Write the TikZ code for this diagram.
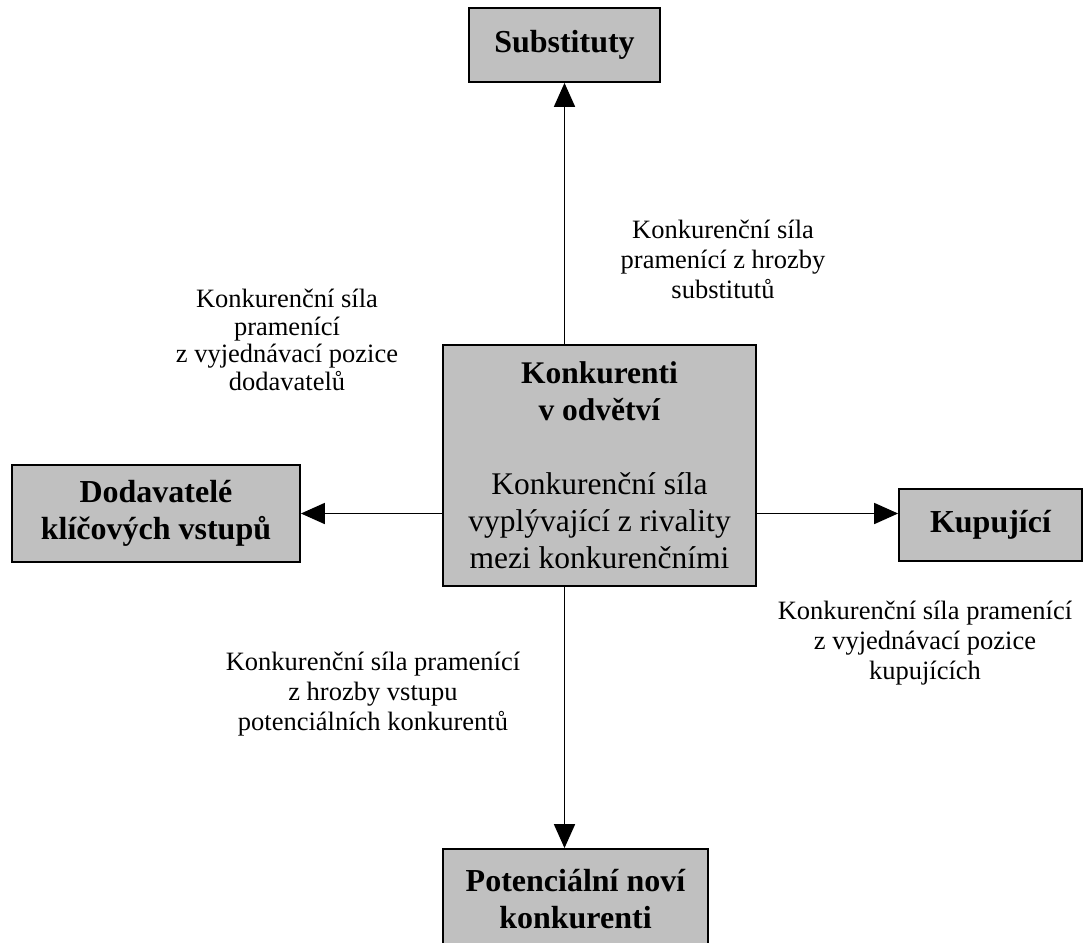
\documentclass[tikz,border=0pt]{standalone}
\usepackage{fontspec}
\setmainfont{Liberation Serif}
\usetikzlibrary{arrows.meta,shadows}
\begin{document}
\begin{tikzpicture}[x=1pt,y=-1pt,
  box/.style={draw=black,line width=1.8pt,fill=boxgray,inner sep=0pt,align=center,
    font=\fontsize{32}{37}\selectfont\bfseries,
    drop shadow={shadow xshift=1.4pt,shadow yshift=-1.4pt,fill=black,opacity=1}},
  label/.style={inner sep=0pt,align=center,font=\fontsize{26.5}{30}\selectfont},
  force/.style={line width=1.8pt,-{Triangle[length=24pt,width=21pt]}}]
\definecolor{boxgray}{RGB}{192,192,192}
\useasboundingbox[fill=white] (0,0) rectangle (1086,942);

% the five forces
\node[box,minimum width=191,minimum height=74] (sub) at (564.5,45) {Substituty};
\node[box,minimum width=313,minimum height=241,font=\fontsize{31.5}{37}\selectfont] (kc) at (599.5,465.5)
  {\textbf{Konkurenti}\\\textbf{v odvětví}\\[37pt]Konkurenční síla\\vyplývající z rivality\\mezi konkurenčními};
\node[box,minimum width=288,minimum height=97] (dod) at (156,513.5) {Dodavatelé\\klíčových vstupů};
\node[box,minimum width=183,minimum height=72] (kup) at (990.5,525) {Kupující};
\node[box,minimum width=265,minimum height=100] (pot) at (575.5,899) {Potenciální noví\\konkurenti};

% arrows from the rivalry box
\draw[force] (sub.south |- kc.north) -- (sub.south);
\draw[force] (kc.west |- dod.east) -- (dod.east);
\draw[force] (kc.east |- dod.east) -- (dod.east -| kup.west);
\draw[force] (sub.south |- kc.south) -- (sub.south |- pot.north);

% descriptions of the forces
\node[label] (lsub) at (723,259) {Konkurenční síla\\pramenící z hrozby\\substitutů};
\node[label,font=\fontsize{26.5}{27.7}\selectfont] (ldod) at (287,340) {Konkurenční síla\\pramenící\\z vyjednávací pozice\\dodavatelů};
\node[label] (lkup) at (925,643) {Konkurenční síla pramenící\\z vyjednávací pozice\\kupujících};
\node[label] (lpot) at (373,694) {Konkurenční síla pramenící\\z hrozby vstupu\\potenciálních konkurentů};
\end{tikzpicture}
\end{document}
